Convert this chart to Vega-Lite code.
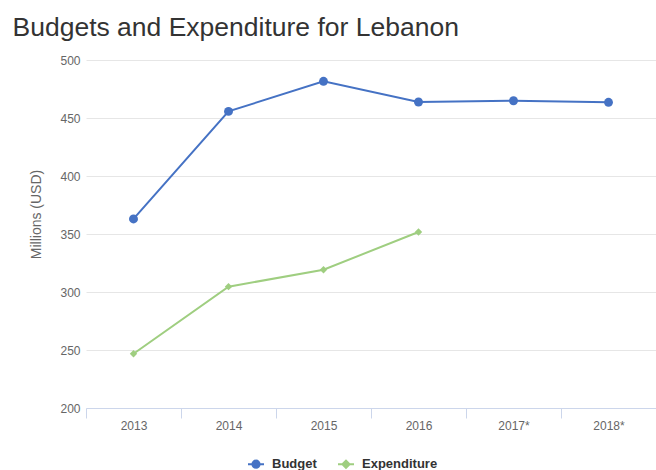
{
  "$schema": "https://vega.github.io/schema/vega-lite/v6.json",
  "autosize": {"type": "none"},
  "width": 570,
  "height": 348,
  "padding": {"left": 86, "top": 60, "right": 0, "bottom": 62},
  "background": "white",
  "title": {
    "text": "Budgets and Expenditure for Lebanon",
    "anchor": "start",
    "frame": "group",
    "dx": -73.5,
    "dy": 33,
    "offset": 25,
    "baseline": "alphabetic",
    "font": "Liberation Sans",
    "fontSize": 26.5,
    "fontWeight": "normal",
    "color": "#333333"
  },
  "config": {
    "view": {"stroke": null},
    "font": "Liberation Sans"
  },
  "data": {
    "values": [
      {"year": "2013", "series": "Budget", "value": 363},
      {"year": "2014", "series": "Budget", "value": 455.7},
      {"year": "2015", "series": "Budget", "value": 481.6},
      {"year": "2016", "series": "Budget", "value": 463.8},
      {"year": "2017*", "series": "Budget", "value": 464.9},
      {"year": "2018*", "series": "Budget", "value": 463.5},
      {"year": "2013", "series": "Expenditure", "value": 246.8},
      {"year": "2014", "series": "Expenditure", "value": 304.6},
      {"year": "2015", "series": "Expenditure", "value": 319.2},
      {"year": "2016", "series": "Expenditure", "value": 351.7}
    ]
  },
  "encoding": {
    "x": {
      "field": "year",
      "type": "ordinal",
      "sort": null,
      "scale": {"paddingInner": 0, "paddingOuter": 0},
      "axis": {
        "title": null,
        "labelAngle": 0,
        "labelFontSize": 12,
        "labelColor": "#666666",
        "labelPadding": 2,
        "tickBand": "extent",
        "tickSize": 10,
        "tickColor": "#ccd6eb",
        "domainColor": "#ccd6eb",
        "grid": false
      }
    },
    "y": {
      "field": "value",
      "type": "quantitative",
      "scale": {"domain": [200, 500], "nice": false, "zero": false},
      "axis": {
        "title": "Millions (USD)",
        "titleFontSize": 14,
        "titleFontWeight": "normal",
        "titleColor": "#666666",
        "titleX": -50,
        "titleY": 154,
        "titleAlign": "center",
        "titleBaseline": "middle",
        "values": [200, 250, 300, 350, 400, 450, 500],
        "labelFontSize": 12,
        "labelColor": "#666666",
        "labelPadding": 6,
        "ticks": false,
        "domain": false,
        "gridColor": "#e6e6e6",
        "gridWidth": 1
      }
    },
    "color": {
      "field": "series",
      "type": "nominal",
      "scale": {"domain": ["Budget", "Expenditure"], "range": ["#4572c4", "#9fce80"]},
      "legend": {
        "title": null,
        "orient": "none",
        "direction": "horizontal",
        "legendX": 161,
        "legendY": 395,
        "padding": 0,
        "symbolSize": 256,
        "symbolStrokeWidth": 2,
        "labelFontSize": 13,
        "labelFontWeight": "bold",
        "labelColor": "#333333",
        "labelOffset": 7,
        "columnPadding": 17,
        "encode": {
          "symbols": {
            "update": {
              "shape": {"signal": "datum.value === 'Budget' ? 'M-1,0L1,0M-0.45,0A0.45,0.45 0 1,0 0.45,0A0.45,0.45 0 1,0 -0.45,0Z' : 'M-1,0L1,0M-0.45,0L0,-0.45L0.45,0L0,0.45Z'"},
              "fill": {"signal": "datum.value === 'Budget' ? '#4572c4' : '#9fce80'"},
              "stroke": {"signal": "datum.value === 'Budget' ? '#4572c4' : '#9fce80'"},
              "fillOpacity": {"value": 1},
              "strokeWidth": {"value": 2}
            }
          }
        }
      }
    }
  },
  "layer": [
    {
      "mark": {"type": "line", "strokeWidth": 2}
    },
    {
      "transform": [{"filter": "datum.series === 'Budget'"}],
      "mark": {"type": "point", "filled": true, "opacity": 1, "shape": "circle", "size": 80}
    },
    {
      "transform": [{"filter": "datum.series === 'Expenditure'"}],
      "mark": {"type": "point", "filled": true, "opacity": 1, "shape": "diamond", "size": 55}
    }
  ]
}
